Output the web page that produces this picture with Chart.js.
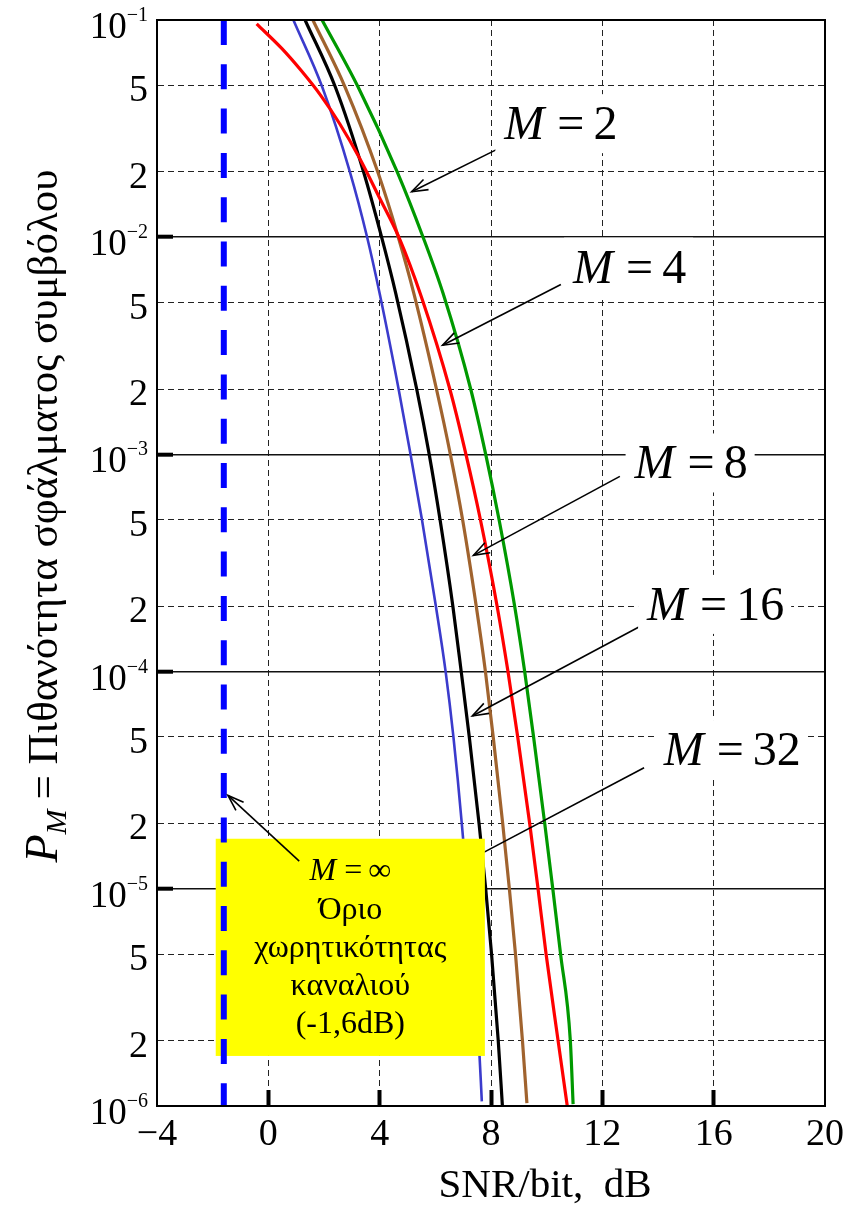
<!DOCTYPE html>
<html lang="el">
<head>
<meta charset="utf-8">
<title>Πιθανότητα σφάλματος συμβόλου – ορθογώνια σήματα</title>
<script src="https://cdn.jsdelivr.net/npm/chart.js@4.4.1/dist/chart.umd.min.js"></script>
<style>
  html, body { margin: 0; padding: 0; background: #ffffff; }
  #frame { width: 868px; height: 1206px; }
  canvas { display: block; }
</style>
</head>
<body>
<div id="frame"><canvas id="perChart" width="868" height="1206"></canvas></div>
<script>
// ---- axes -------------------------------------------------------------
const snrTicks = [-4, 0, 4, 8, 12, 16, 20];                 // SNR/bit, dB
const decadeTicks = [1e-6, 1e-5, 1e-4, 1e-3, 1e-2, 1e-1];   // solid grid
const decadeExponents = [6, 5, 4, 3, 2, 1];
const minorTicks = [2e-6, 5e-6, 2e-5, 5e-5, 2e-4, 5e-4, 2e-3, 5e-3, 2e-2, 5e-2];
const minorLabels = ['2', '5', '2', '5', '2', '5', '2', '5', '2', '5'];

// ---- symbol error probability of orthogonal signals -------------------
const snrM2  = [1.93, 3.23, 4.63, 5.56, 6.28, 7.27, 7.81, 8.29, 8.85, 9.21, 9.53, 9.93, 10.22, 10.50, 10.85, 10.95];
const peM2   = [1e-1, 4.9e-2, 2e-2, 1e-2, 5.5e-3, 2e-3, 1e-3, 5e-4, 2e-4, 1e-4, 5e-5, 2e-5, 1e-5, 5e-6, 2e-6, 1.02e-6];

const snrM4  = [-0.42, 0.49, 1.18, 1.88, 2.57, 3.27, 3.97, 4.69, 5.50, 6.52, 7.10, 7.62, 8.22, 8.61, 8.96, 9.39, 9.69, 9.98, 10.41, 10.74];
const peM4   = [9.6e-2, 7.38e-2, 5.85e-2, 4.5e-2, 3.32e-2, 2.32e-2, 1.54e-2, 1e-2, 5.3e-3, 2e-3, 1e-3, 5e-4, 2e-4, 1e-4, 5e-5, 2e-5, 1e-5, 5e-6, 2e-6, 1e-6];

const snrM8  = [1.60, 2.76, 3.93, 4.67, 5.23, 6.04, 6.54, 6.98, 7.47, 7.80, 8.08, 8.42, 8.66, 8.88, 9.13, 9.29];
const peM8   = [1e-1, 4.9e-2, 2e-2, 1e-2, 5.5e-3, 2e-3, 1e-3, 5e-4, 2e-4, 1e-4, 5e-5, 2e-5, 1e-5, 5e-6, 2e-6, 1.03e-6];

const snrM16 = [1.32, 2.41, 3.42, 4.07, 4.58, 5.33, 5.78, 6.17, 6.63, 6.93, 7.22, 7.57, 7.81, 8.02, 8.26, 8.41];
const peM16  = [1e-1, 4.9e-2, 2e-2, 1e-2, 5.5e-3, 2e-3, 1e-3, 5e-4, 2e-4, 1e-4, 5e-5, 2e-5, 1e-5, 5e-6, 2e-6, 1e-6];

const snrM32 = [0.90, 1.94, 2.93, 3.55, 4.00, 4.68, 5.11, 5.52, 6.02, 6.37, 6.65, 6.95, 7.56, 7.67];
const peM32  = [1e-1, 4.9e-2, 2e-2, 1e-2, 5.5e-3, 2e-3, 1e-3, 5e-4, 2e-4, 1e-4, 5e-5, 2e-5, 2e-6, 1.05e-6];

// channel capacity limit (M -> infinity)
const shannonLimitDb = -1.6;
const limitPe = [1e-1, 1e-6];

// ---- annotations (data coordinates) -----------------------------------
const noteM      = ['2', '4', '8', '16', '32'];
const noteSnr    = [10.51, 12.98, 15.19, 16.07, 16.67];
const notePe     = [3.35e-2, 7.32e-3, 9.18e-4, 2.05e-4, 4.4e-5];
const tailSnr    = [8.25, 10.51, 12.63, 13.33, 13.5];
const tailPe     = [2.55e-2, 6.06e-3, 7.92e-4, 1.61e-4, 3.61e-5];
const tipSnr     = [5.15, 6.26, 7.37, 7.33, 7.04];
const tipPe      = [1.62e-2, 3.18e-3, 3.43e-4, 6.25e-5, 1.32e-5];

const limitBoxSnr = [-1.89, 7.78];
const limitBoxPe  = [1.70e-5, 1.70e-6];
const limitArrowSnr = [1.11, -1.45];
const limitArrowPe  = [1.34e-5, 2.69e-5];
const limitText = ['Όριο', 'χωρητικότητας', 'καναλιού', '(-1,6dB)'];

const SERIF = '"Liberation Serif", "Times New Roman", serif';
const font = (size, italic) => (italic ? 'italic ' : '') + size + 'px ' + SERIF;

function runsWidth(ctx, runs) {
  let w = 0;
  runs.forEach((r, i) => {
    ctx.font = font(r.size, r.italic);
    w += ctx.measureText(r.text).width + (i < runs.length - 1 ? (r.gap || 0) : 0);
  });
  return w;
}
function drawRuns(ctx, runs, x, baseline) {
  let cx = x;
  runs.forEach(r => {
    ctx.font = font(r.size, r.italic);
    ctx.fillText(r.text, cx, baseline + (r.dy || 0));
    cx += ctx.measureText(r.text).width + (r.gap || 0);
  });
}
function drawArrow(ctx, x1, y1, x2, y2, head) {
  ctx.beginPath();
  ctx.moveTo(x1, y1);
  ctx.lineTo(x2, y2);
  ctx.stroke();
  if (!head) return;
  const a = Math.atan2(y2 - y1, x2 - x1), L = 17, w = 0.34;
  ctx.beginPath();
  ctx.moveTo(x2 - L * Math.cos(a - w), y2 - L * Math.sin(a - w));
  ctx.lineTo(x2, y2);
  ctx.lineTo(x2 - L * Math.cos(a + w), y2 - L * Math.sin(a + w));
  ctx.stroke();
}

const decor = {
  id: 'decor',
  // the yellow capacity note sits above the curves but under the dashed limit line
  beforeDatasetDraw(chart, args) {
    if (args.index !== 0) return;
    const ctx = chart.ctx, xs = chart.scales.x, ys = chart.scales.y;
    ctx.save();
    ctx.strokeStyle = '#000';
    ctx.lineWidth = 1.6;
    const k = 4;
    drawArrow(ctx, xs.getPixelForValue(tailSnr[k]), ys.getPixelForValue(tailPe[k]),
                   xs.getPixelForValue(tipSnr[k]), ys.getPixelForValue(tipPe[k]), true);

    const bx0 = xs.getPixelForValue(limitBoxSnr[0]), bx1 = xs.getPixelForValue(limitBoxSnr[1]);
    const by0 = ys.getPixelForValue(limitBoxPe[0]), by1 = ys.getPixelForValue(limitBoxPe[1]);
    ctx.fillStyle = '#ffff00';
    ctx.fillRect(bx0, by0, bx1 - bx0, by1 - by0);

    ctx.fillStyle = '#000';
    ctx.textBaseline = 'alphabetic';
    ctx.textAlign = 'left';
    const cx = (bx0 + bx1) / 2;
    const head = [{ text: 'M', size: 32, italic: true, gap: 8 }, { text: '=', size: 32, gap: 6 }, { text: '∞', size: 32 }];
    drawRuns(ctx, head, cx - runsWidth(ctx, head) / 2, by0 + 41);
    ctx.textAlign = 'center';
    ctx.font = font(32, false);
    limitText.forEach((t, i) => ctx.fillText(t, cx, by0 + 80 + i * 38));
    ctx.restore();
  },
  afterDatasetsDraw(chart) {
    const ctx = chart.ctx, xs = chart.scales.x, ys = chart.scales.y;
    ctx.save();
    ctx.strokeStyle = '#000';
    ctx.lineWidth = 1.6;
    for (let k = 0; k < 4; k++) {
      drawArrow(ctx, xs.getPixelForValue(tailSnr[k]), ys.getPixelForValue(tailPe[k]),
                     xs.getPixelForValue(tipSnr[k]), ys.getPixelForValue(tipPe[k]), true);
    }
    drawArrow(ctx, xs.getPixelForValue(limitArrowSnr[0]), ys.getPixelForValue(limitArrowPe[0]),
                   xs.getPixelForValue(limitArrowSnr[1]), ys.getPixelForValue(limitArrowPe[1]), true);

    // "M = k" labels on white patches
    ctx.textBaseline = 'alphabetic';
    ctx.textAlign = 'left';
    noteM.forEach((m, k) => {
      const runs = [{ text: 'M', size: 48, italic: true, gap: 13 }, { text: '=', size: 48, gap: 9 }, { text: m, size: 48 }];
      const w = runsWidth(ctx, runs);
      const cx = xs.getPixelForValue(noteSnr[k]), cy = ys.getPixelForValue(notePe[k]);
      const x0 = cx - w / 2;
      ctx.fillStyle = '#ffffff';
      ctx.fillRect(x0 - 9, cy - 29, w + 16, 59);
      ctx.fillStyle = '#000';
      drawRuns(ctx, runs, x0, cy + 16);
    });
    ctx.restore();
  },
  afterDraw(chart) {
    const ctx = chart.ctx, a = chart.chartArea;
    const ys = chart.scales.y, y2 = chart.scales.y2;
    ctx.save();
    // plot frame
    ctx.strokeStyle = '#000';
    ctx.lineWidth = 2;
    ctx.strokeRect(a.left, a.top, a.right - a.left, a.bottom - a.top);

    // probability tick labels
    ctx.fillStyle = '#000';
    ctx.textBaseline = 'alphabetic';
    const xr = a.left - 9;
    decadeTicks.forEach((v, i) => {
      const py = y2.getPixelForValue(v);
      const sup = '\u2212' + decadeExponents[i];
      ctx.font = font(20, false);
      const ws = ctx.measureText(sup).width;
      ctx.font = font(37, false);
      const wb = ctx.measureText('10').width;
      ctx.textAlign = 'left';
      ctx.fillText('10', xr - ws - wb, py + 18);
      ctx.font = font(20, false);
      ctx.fillText(sup, xr - ws, py + 1);
    });
    ctx.textAlign = 'right';
    ctx.font = font(38, false);
    minorTicks.forEach((v, i) => ctx.fillText(minorLabels[i], xr, ys.getPixelForValue(v) + 16));

    // axis titles
    ctx.textAlign = 'center';
    ctx.font = font(41, false);
    ctx.fillText('SNR/bit,  dB', 545, 1197);

    const title = [
      { text: 'P', size: 46, italic: true },
      { text: 'M', size: 30, italic: true, dy: 9, gap: 10 },
      { text: '= Πιθανότητα σφάλματος συμβόλου', size: 43 }
    ];
    ctx.translate(42, 516);
    ctx.rotate(-Math.PI / 2);
    ctx.textAlign = 'left';
    drawRuns(ctx, title, -runsWidth(ctx, title) / 2, 15);
    ctx.restore();
  }
};

const curves = [
  { name: 'M = 4',  snr: snrM4,  pe: peM4,  color: '#ff0000', width: 3.2 },
  { name: 'M = 2',  snr: snrM2,  pe: peM2,  color: '#009900', width: 3.2 },
  { name: 'M = 8',  snr: snrM8,  pe: peM8,  color: '#a0632e', width: 3.2 },
  { name: 'M = 16', snr: snrM16, pe: peM16, color: '#000000', width: 3.2 },
  { name: 'M = 32', snr: snrM32, pe: peM32, color: '#3b3bcc', width: 2.6 }
];

const datasets = [{
  label: 'M = ∞',
  data: limitPe.map(p => ({ x: shannonLimitDb, y: p })),
  borderColor: '#0000ff',
  borderWidth: 6,
  borderDash: [25, 19.3],
  pointRadius: 0,
  tension: 0,
  fill: false
}].concat(curves.map(c => ({
  label: c.name,
  data: c.snr.map((x, i) => ({ x: x, y: c.pe[i] })),
  borderColor: c.color,
  borderWidth: c.width,
  pointRadius: 0,
  cubicInterpolationMode: 'monotone',
  borderJoinStyle: 'round',
  fill: false
})));

const edge = v => v === snrTicks[0] || v === snrTicks[snrTicks.length - 1];
const decEdge = v => v === decadeTicks[0] || v === decadeTicks[decadeTicks.length - 1];

function makeChart() {
  new Chart(document.getElementById('perChart'), {
    type: 'line',
    data: { datasets: datasets },
    options: {
      responsive: false,
      animation: false,
      devicePixelRatio: 1,
      events: [],
      layout: { padding: { left: 0, right: 43, top: 20, bottom: 0 } },
      plugins: { legend: { display: false }, tooltip: { enabled: false } },
      scales: {
        x: {
          type: 'linear',
          min: -4, max: 20,
          afterBuildTicks: s => { s.ticks = snrTicks.map(v => ({ value: v })); },
          afterFit: s => { s.height = 100; s.paddingLeft = 0; s.paddingRight = 0; },
          ticks: {
            color: '#000',
            padding: 22,
            maxRotation: 0,
            autoSkip: false,
            font: { family: SERIF, size: 38 },
            callback: v => (v < 0 ? '\u2212' + Math.abs(v) : String(v))
          },
          grid: {
            color: c => (c.tick && edge(c.tick.value) ? 'rgba(0,0,0,0)' : '#222'),
            lineWidth: 1,
            tickLength: -16,
            tickWidth: 4,
            tickColor: c => (c.tick && edge(c.tick.value) ? 'rgba(0,0,0,0)' : '#000')
          },
          border: { display: true, color: '#000', width: 2, dash: [6, 4] }
        },
        y: {
          type: 'logarithmic',
          position: 'left',
          weight: 1,
          min: 1e-6, max: 1e-1,
          afterBuildTicks: s => { s.ticks = minorTicks.map(v => ({ value: v })); },
          afterFit: s => { s.width = 157; s.paddingTop = 0; s.paddingBottom = 0; },
          ticks: { display: false },
          grid: { color: '#222', lineWidth: 1, drawTicks: false },
          border: { display: true, color: '#000', width: 2, dash: [6, 4] }
        },
        y2: {
          type: 'logarithmic',
          position: 'left',
          weight: 0,
          min: 1e-6, max: 1e-1,
          afterBuildTicks: s => { s.ticks = decadeTicks.map(v => ({ value: v })); },
          afterFit: s => { s.width = 0; s.paddingTop = 0; s.paddingBottom = 0; },
          ticks: { display: false },
          grid: {
            color: c => (c.tick && decEdge(c.tick.value) ? 'rgba(0,0,0,0)' : '#111'),
            lineWidth: 1.4,
            tickLength: -16,
            tickWidth: 4,
            tickColor: c => (c.tick && decEdge(c.tick.value) ? 'rgba(0,0,0,0)' : '#000')
          },
          border: { display: false }
        }
      }
    },
    plugins: [decor]
  });
}

const fontsReady = document.fonts
  ? Promise.all([
      document.fonts.load('38px "Liberation Serif"'),
      document.fonts.load('italic 38px "Liberation Serif"')
    ])
  : Promise.resolve();
fontsReady.then(makeChart, makeChart);
</script>
</body>
</html>
